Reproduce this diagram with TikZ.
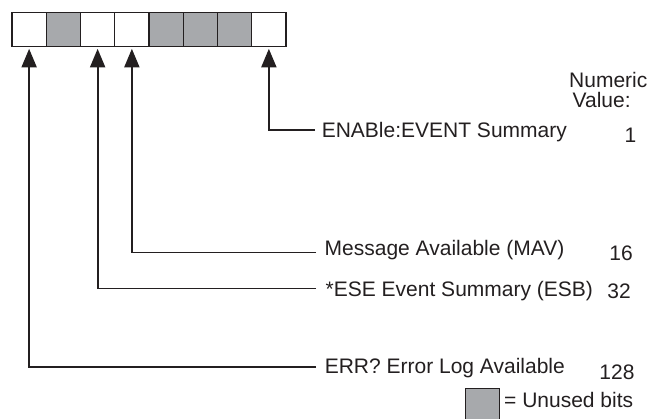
\documentclass[tikz,border=0pt]{standalone}
\usepackage{fontspec}
\setmainfont{Liberation Sans}
\usetikzlibrary{arrows.meta}
\definecolor{ink}{HTML}{231F20}
\definecolor{unused}{HTML}{A7A9AC}
\tikzset{
  bitbox/.style={draw=ink, line width=1.1pt, minimum width=34.25pt, minimum height=34.5pt, inner sep=0pt, fill=white},
  unusedbox/.style={bitbox, fill=unused},
  lab/.style={anchor=base west, inner sep=0pt, text=ink, font=\fontsize{21}{25}\selectfont},
  num/.style={anchor=base, inner sep=0pt, text=ink, font=\fontsize{21}{25}\selectfont},
  conn/.style={draw=ink, line width=1.8pt, -{Triangle[length=18.5pt, width=15pt]}, shorten >=1.6pt}
}
\begin{document}
\begin{tikzpicture}[x=1pt, y=-1pt]
\useasboundingbox (0,0) rectangle (648,419);
% register bits (bit 7 at left)
\node[bitbox]    (b0) at (29.125,29.4) {};
\node[unusedbox] (b1) at (63.375,29.4) {};
\node[bitbox]    (b2) at (97.625,29.4) {};
\node[bitbox]    (b3) at (131.875,29.4) {};
\node[unusedbox] (b4) at (166.125,29.4) {};
\node[unusedbox] (b5) at (200.375,29.4) {};
\node[unusedbox] (b6) at (234.625,29.4) {};
\node[bitbox]    (b7) at (268.875,29.4) {};
% header
\node[lab] (hdr1) at (569,88) {Numeric};
\node[lab] (hdr2) at (572.5,108) {Value:};
% labels
\node[lab] (lENA) at (321.6,138) {ENABle:EVENT Summary};
\node[lab] (lMAV) at (324.5,256) {Message Available (MAV)};
\node[lab] (lESB) at (325.5,296.5) {*ESE Event Summary (ESB)};
\node[lab] (lERR) at (324.6,374) {ERR? Error Log Available};
% values
\node[num] (vENA) at (630.5,143) {1};
\node[num] (vMAV) at (621,261) {16};
\node[num] (vESB) at (619,298.5) {32};
\node[num] (vERR) at (617,379.5) {128};
% connector ends
\coordinate (eENA) at (315,130);
\coordinate (eMAV) at (316,252.5);
\coordinate (eESB) at (316,288.5);
\coordinate (eERR) at (316,366.7);
\draw[conn] (eENA) -| (b7.south);
\draw[conn] (eMAV) -| (b3.south);
\draw[conn] (eESB) -| (b2.south);
\draw[conn] (eERR) -| (b0.south);
% legend
\draw[draw=ink, line width=1.1pt, fill=unused] (465.5,388.5) rectangle (499.5,425);
\node[lab] (leg) at (504,408) {= Unused bits};
\end{tikzpicture}
\end{document}
